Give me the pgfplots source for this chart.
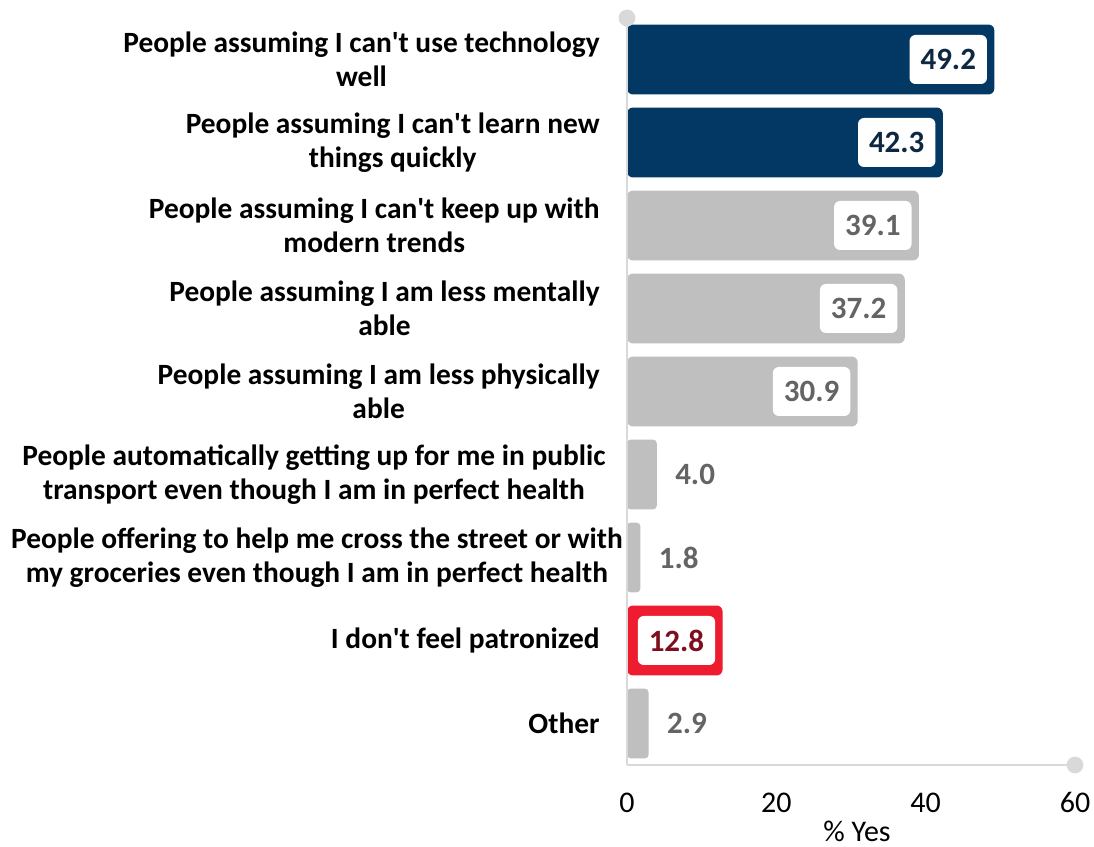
\documentclass[border=0pt]{standalone}
\usepackage{pgfplots}
\pgfplotsset{compat=1.18}
\usepackage{fontspec}
\setmainfont{Carlito}
\definecolor{navy}{HTML}{033865}
\definecolor{bargray}{HTML}{BFBFBF}
\definecolor{barred}{HTML}{ED1C2E}
\definecolor{navytext}{HTML}{0E2841}
\definecolor{graytext}{HTML}{646464}
\definecolor{redtext}{HTML}{7F0F1E}
\definecolor{linegray}{HTML}{D9D9D9}
\newcommand\catfont{\fontsize{14.7pt}{17.2pt}\selectfont\bfseries}
\newcommand\valfont{\fontsize{15.5pt}{18pt}\selectfont\bfseries}
\newcommand\tickfont{\fontsize{15pt}{18pt}\selectfont}
\newcommand\q{\textquotesingle{}}
\begin{document}
\begin{tikzpicture}
\begin{axis}[
  scale only axis,
  width=224pt, height=373.5pt,
  xmin=0, xmax=60, ymin=-0.5, ymax=8.5,
  clip=false,
  axis on top,
  axis x line*=bottom, axis y line*=left,
  axis line style={draw=linegray, line width=1pt},
  xtick={0,20,40,60},
  ytick=\empty,
  major tick length=0pt,
  /pgf/number format/assume math mode=true,
  xticklabel style={anchor=base, yshift=-24pt, font=\tickfont},
  xbar, bar width=0.843, bar shift=0pt,
  point meta=x,
  nodes near coords={\pgfmathprintnumber[fixed,fixed zerofill,precision=1]{\pgfplotspointmeta}},
]
% navy bars
\addplot[fill=navy, draw=none, rounded corners=3pt,
  nodes near coords style={anchor=east, xshift=-3.5pt, fill=white, rounded corners=3pt,
    text=navytext, minimum height=24.5pt, inner xsep=5.5pt, inner ysep=0pt, font=\valfont}]
  coordinates {(49.2,8) (42.3,7)};
% gray bars, label inside
\addplot[fill=bargray, draw=none, rounded corners=3pt,
  nodes near coords style={anchor=east, xshift=-3.5pt, fill=white, rounded corners=3pt,
    text=graytext, minimum height=24.5pt, inner xsep=5.5pt, inner ysep=0pt, font=\valfont}]
  coordinates {(39.1,6) (37.2,5) (30.9,4)};
% gray bars, label outside
\addplot[fill=bargray, draw=none, rounded corners=2pt,
  nodes near coords style={anchor=west, xshift=3.5pt,
    text=graytext, minimum height=24.5pt, inner xsep=5.5pt, inner ysep=0pt, font=\valfont}]
  coordinates {(4.0,3) (1.8,2) (2.9,0)};
% red bar
\addplot[fill=barred, draw=none, rounded corners=3pt,
  nodes near coords style={anchor=east, xshift=-3.5pt, fill=white, rounded corners=3pt,
    text=redtext, minimum height=24.5pt, inner xsep=5.5pt, inner ysep=0pt, font=\valfont}]
  coordinates {(12.8,1)};
% category labels
\tikzset{cat/.style={align=center, font=\catfont, inner sep=0pt}}
\node[cat, anchor=east, xshift=-13.5pt] at (axis cs:0,8) {People assuming I can\q t use technology\\well};
\node[cat, anchor=east, xshift=-13.5pt] at (axis cs:0,7) {People assuming I can\q t learn new\\things quickly};
\node[cat, anchor=east, xshift=-13.5pt] at (axis cs:0,6) {People assuming I can\q t keep up with\\modern trends};
\node[cat, anchor=east, xshift=-13.5pt] at (axis cs:0,5) {People assuming I am less mentally\\able};
\node[cat, anchor=east, xshift=-13.5pt] at (axis cs:0,4) {People assuming I am less physically\\able};
\node[cat, anchor=center, xshift=-156.5pt] at (axis cs:0,3) {People automatically getting up for me in public\\transport even though I am in perfect health};
\node[cat, anchor=center, xshift=-155pt] at (axis cs:0,2) {People offering to help me cross the street or with\\my groceries even though I am in perfect health};
\node[cat, anchor=east, xshift=-13.5pt] at (axis cs:0,1) {I don\q t feel patronized};
\node[cat, anchor=east, xshift=-13.5pt] at (axis cs:0,0) {Other};
% axis end dots
\fill[linegray] (rel axis cs:0,1) circle (4.2pt);
\fill[linegray] (rel axis cs:1,0) circle (4.2pt);
% x label
\node[anchor=base, font=\tickfont, xshift=3pt, yshift=-38.5pt] at (rel axis cs:0.5,0) {\% Yes};
\end{axis}
\pgfresetboundingbox
\path (current axis.south west) ++(-313.5pt,-41pt) coordinate (bl);
\path (current axis.north east) ++(9.5pt,9pt) coordinate (tr);
\path (bl) rectangle (tr);
\end{tikzpicture}
\end{document}
